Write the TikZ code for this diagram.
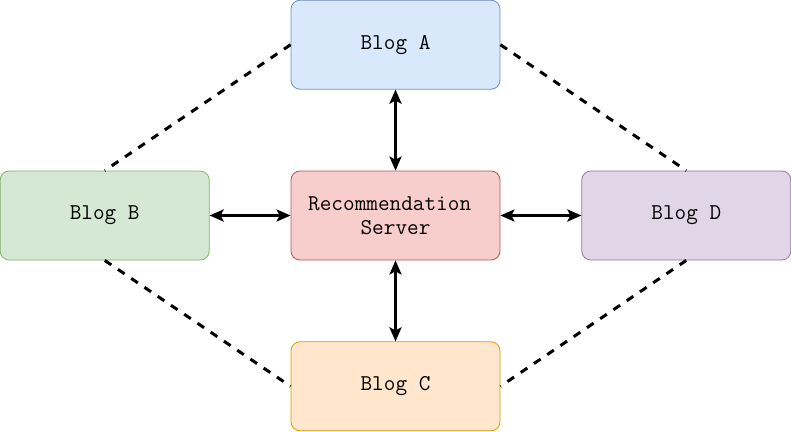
\documentclass[tikz,border=0pt]{standalone}
\usepackage{tikz}
\usetikzlibrary{arrows.meta, positioning}
\definecolor{bluefill}{HTML}{DAE8FC}
\definecolor{blueline}{HTML}{6C8EBF}
\definecolor{greenfill}{HTML}{D5E8D4}
\definecolor{greenline}{HTML}{82B366}
\definecolor{redfill}{HTML}{F8CECC}
\definecolor{redline}{HTML}{B85450}
\definecolor{purplefill}{HTML}{E1D5E7}
\definecolor{purpleline}{HTML}{9673A6}
\definecolor{orangefill}{HTML}{FFE6CC}
\definecolor{orangeline}{HTML}{D79B00}
\tikzset{
  % Blog / server boxes
  blogbox/.style={
    rectangle, rounded corners=9pt, minimum width=209pt, minimum height=89pt,
    draw=#1line, fill=#1fill, line width=0.8pt, align=center,
    font=\ttfamily\fontsize{22.6}{24}\selectfont
  },
  blogbox/.default=blue,
  % Connectors
  link/.style={{Stealth[length=14pt,width=12pt,inset=3pt]}-{Stealth[length=14pt,width=12pt,inset=3pt]}, line width=3pt, black},
  peer/.style={dash pattern=on 8pt off 8pt, line width=3pt, black},
}
\begin{document}
\begin{tikzpicture}[node distance=81pt and 81pt]

  \useasboundingbox (-395.5pt,-215.5pt) rectangle (395.5pt,215.5pt);

  % Central server
  \node[blogbox=red] (server) at (0,0) {Recommendation\phantom{x}\\Server};

  % Blogs around it
  \node[blogbox=blue, above=of server] (bloga) {Blog A};
  \node[blogbox=green, left=of server] (blogb) {Blog B};
  \node[blogbox=orange, below=of server] (blogc) {Blog C};
  \node[blogbox=purple, right=of server] (blogd) {Blog D};

  % Server links
  \draw[link] (server) -- (bloga);
  \draw[link] (server) -- (blogb);
  \draw[link] (server) -- (blogc);
  \draw[link] (server) -- (blogd);

  % Blog to blog
  \draw[peer] (bloga.west) -- (blogb.north);
  \draw[peer] (bloga.east) -- (blogd.north);
  \draw[peer] (blogb.south) -- (blogc.west);
  \draw[peer] (blogd.south) -- (blogc.east);

\end{tikzpicture}
\end{document}
